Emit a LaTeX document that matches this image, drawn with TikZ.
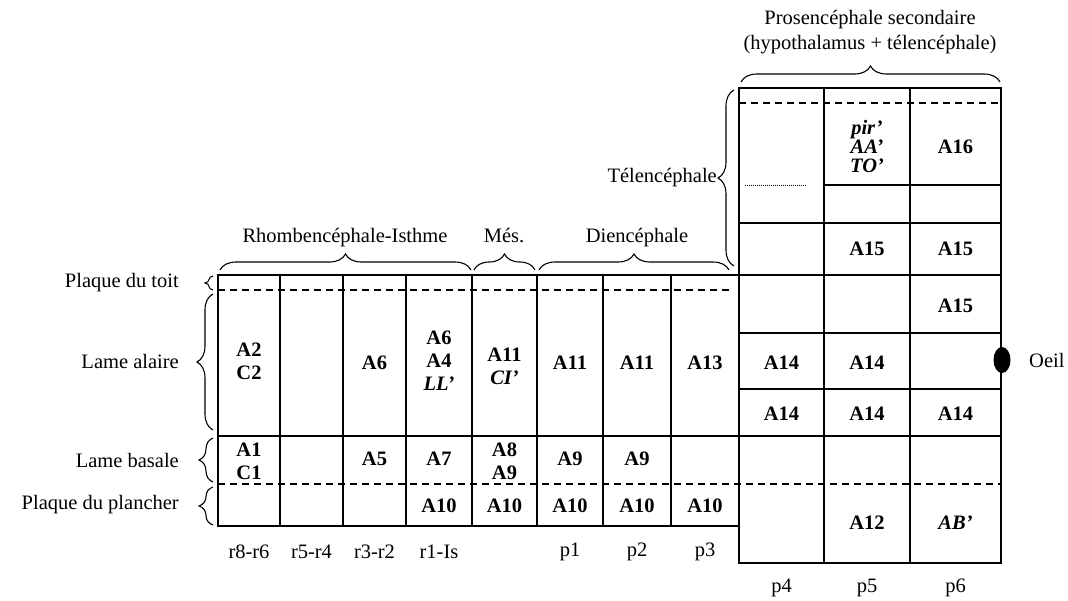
\documentclass[tikz,border=0pt]{standalone}
\usepackage{fontspec}
\setmainfont{Liberation Serif}
\usetikzlibrary{decorations.pathreplacing,shapes.geometric}
\tikzset{>=latex}
\newcommand{\figsize}{\fontsize{20.5}{23}\selectfont}
\tikzset{
	cell/.style={font=\figsize\bfseries, align=center, inner sep=0pt},
	celli/.style={font=\figsize\bfseries\itshape, align=center, inner sep=0pt},
	lbl/.style={inner sep=0pt, align=center},
	grid/.style={line width=1.6pt},
	cut/.style={line width=1.4pt, dash pattern=on 7pt off 5pt},
	brc/.style={line width=1.1pt, decorate, decoration={brace, amplitude=#1}},
	brc/.default=16pt
}

\begin{document}
\begin{tikzpicture}[x=1pt,y=-1pt,font=\figsize]
	\useasboundingbox (0,0) rectangle (1068,600);

	% Left table (rhombencephale to diencephale)
	\draw[grid] (218,275) rectangle (739,526);
	\foreach \x in {280,343,406,472,537,603,671}
		\draw[grid] (\x,275) -- (\x,526);
	\draw[grid] (218,436) -- (1001,436);
	\draw[cut] (218,290) -- (731,290); %roof plate
	\draw[cut] (218,484) -- (1001,484); %floor plate

	% Right table (secondary prosencephalon)
	\draw[grid] (739,88) rectangle (1001,563);
	\foreach \x in {824,910}
		\draw[grid] (\x,88) -- (\x,563);
	\foreach \y in {223,275,333,389}
		\draw[grid] (739,\y) -- (1001,\y);
	\draw[grid] (824,185) -- (1001,185);
	\draw[densely dotted, line width=1pt] (745,185) -- (806,185);
	\draw[cut] (739,103) -- (1001,103);

	% Eye
	\node[ellipse, fill, minimum width=17pt, minimum height=26pt, inner sep=0pt] (eye) at (1002,360) {};
	\node[lbl, anchor=west] (oeil) at (1029,360) {Oeil};

	% Braces above
	\draw[brc] (220,270) -- (471,270);
	\draw[brc] (474,270) -- (535,270);
	\draw[brc] (539,270) -- (729,270);
	\draw[brc] (741,82) -- (1000,82);
	\node[lbl] (rhomb) at (345,238) {Rhombencéphale-Isthme};
	\node[lbl] (mes) at (504,236) {Més.};
	\node[lbl] (dien) at (637,238) {Diencéphale};
	\node[lbl, font=\fontsize{20.5}{25}\selectfont] (pros) at (870,32) {Prosencéphale secondaire\\(hypothalamus + télencéphale)};

	% Braces on the left
	\draw[brc=8pt] (213,290) -- (213,276);
	\draw[brc] (213,430) -- (213,294);
	\draw[brc=14pt] (213,482) -- (213,438);
	\draw[brc=14pt] (213,525) -- (213,487);
	\draw[brc] (734,266) -- (734,90);
	\node[lbl, anchor=east] (toit) at (179,283) {Plaque du toit};
	\node[lbl, anchor=east] (alaire) at (179,361) {Lame alaire};
	\node[lbl, anchor=east] (basale) at (179,460) {Lame basale};
	\node[lbl, anchor=east] (plancher) at (179,505) {Plaque du plancher};
	\node[lbl, anchor=east] (telen) at (717,178) {Télencéphale};

	% Cells, lame alaire
	\node[cell] (a1) at (249,361) {A2\\C2};
	\node[cell] (a3) at (374.5,363) {A6};
	\node[cell] (a4) at (439,361) {A6\\A4\\\textit{LL'}};
	\node[cell] (a5) at (504.5,366) {A11\\\textit{CI'}};
	\node[cell] (a6) at (570,363) {A11};
	\node[cell] (a7) at (637,363) {A11};
	\node[cell] (a8) at (705,363) {A13};
	% Cells, lame basale
	\node[cell] (b1) at (249,461) {A1\\C1};
	\node[cell] (b3) at (374.5,459) {A5};
	\node[cell] (b4) at (439,459) {A7};
	\node[cell] (b5) at (504.5,461) {A8\\A9};
	\node[cell] (b6) at (570,459) {A9};
	\node[cell] (b7) at (637,459) {A9};
	% Cells, plaque du plancher
	\node[cell] (f4) at (439,506) {A10};
	\node[cell] (f5) at (504.5,506) {A10};
	\node[cell] (f6) at (570,506) {A10};
	\node[cell] (f7) at (637,506) {A10};
	\node[cell] (f8) at (705,506) {A10};

	% Cells, right table
	\node[celli, font=\fontsize{20.5}{19}\selectfont\bfseries\itshape] (t2) at (867,146) {pir'\\AA'\\TO'};
	\node[cell] (t3) at (955.5,147) {A16};
	\node[cell] (h2) at (867,249) {A15};
	\node[cell] (h3) at (955.5,249) {A15};
	\node[cell] (g3) at (955.5,306) {A15};
	\node[cell] (e1) at (781.5,363) {A14};
	\node[cell] (e2) at (867,363) {A14};
	\node[cell] (d1) at (781.5,414) {A14};
	\node[cell] (d2) at (867,414) {A14};
	\node[cell] (d3) at (955.5,414) {A14};
	\node[cell] (k2) at (867,523) {A12};
	\node[celli] (k3) at (955.5,523) {AB'};

	% Segment names
	\node[lbl] (s1) at (249,552) {r8-r6};
	\node[lbl] (s2) at (311.5,552) {r5-r4};
	\node[lbl] (s3) at (374.5,552) {r3-r2};
	\node[lbl] (s4) at (439,552) {r1-Is};
	\node[lbl] (s6) at (570,552) {p1};
	\node[lbl] (s7) at (637,552) {p2};
	\node[lbl] (s8) at (705,552) {p3};
	\node[lbl] (s9) at (781.5,588) {p4};
	\node[lbl] (s10) at (867,588) {p5};
	\node[lbl] (s11) at (955.5,588) {p6};
\end{tikzpicture}
\end{document}
